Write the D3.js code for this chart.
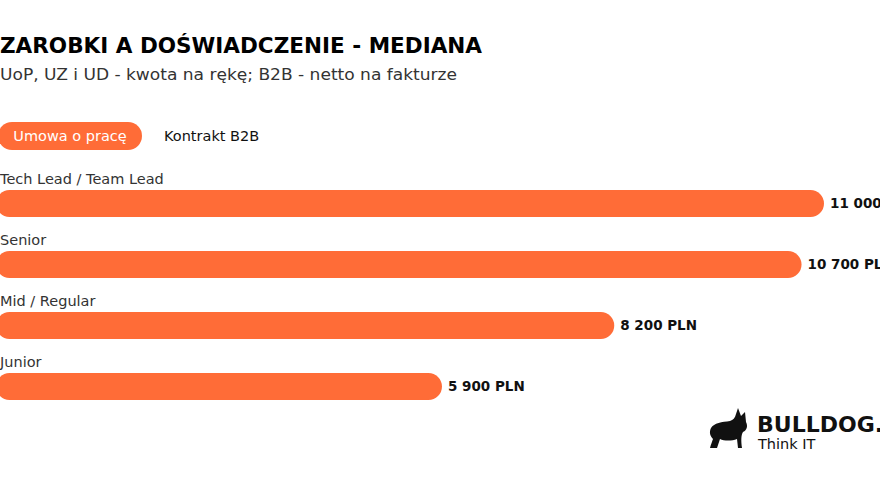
<!DOCTYPE html>
<html>
<head>
<meta charset="utf-8">
<script src="https://cdn.jsdelivr.net/npm/d3@7"></script>
<style>
  body { margin: 0; background: #fff; }
  svg { display: block; font-family: "DejaVu Sans", sans-serif; }
</style>
</head>
<body>
<script>
const levels = ["Tech Lead / Team Lead", "Senior", "Mid / Regular", "Junior"];
const medians = [11000, 10700, 8200, 5900];
const legendItems = ["Umowa o pracę", "Kontrakt B2B"];

const width = 880, height = 480;
const orange = "#ff6c37";

const svg = d3.select("body").append("svg")
    .attr("width", width)
    .attr("height", height);

// title + subtitle
svg.append("text")
    .attr("x", 0).attr("y", 53)
    .attr("textLength", 482).attr("lengthAdjust", "spacingAndGlyphs")
    .style("font-size", "21px").style("font-weight", 700)
    .attr("fill", "#000")
    .text("ZAROBKI A DOŚWIADCZENIE - MEDIANA");

svg.append("text")
    .attr("x", 0).attr("y", 80)
    .attr("textLength", 457).attr("lengthAdjust", "spacingAndGlyphs")
    .style("font-size", "16px")
    .attr("fill", "#333")
    .text("UoP, UZ i UD - kwota na rękę; B2B - netto na fakturze");

// legend / toggle
const leg = svg.append("g");
leg.append("rect")
    .attr("x", -2).attr("y", 122)
    .attr("width", 144).attr("height", 28)
    .attr("rx", 14)
    .attr("fill", orange);
leg.append("text")
    .attr("x", 70).attr("y", 141)
    .attr("text-anchor", "middle")
    .style("font-size", "14.5px")
    .attr("fill", "#fff")
    .text(legendItems[0]);
leg.append("text")
    .attr("x", 164).attr("y", 141)
    .style("font-size", "14.5px")
    .attr("fill", "#111")
    .text(legendItems[1]);

// bars
const x = d3.scaleLinear().domain([0, 11000]).range([0, 824]);
const y = d3.scaleBand().domain(levels).range([190, 400]).paddingInner(0.557).paddingOuter(0);

const fmt = v => d3.format(",")(v).replace(/,/g, " ") + " PLN";

const row = svg.selectAll("g.row")
    .data(levels.map((l, i) => ({level: l, value: medians[i]})))
    .enter().append("g")
    .attr("class", "row");

row.append("text")
    .attr("x", 0)
    .attr("y", d => y(d.level) - 6)
    .style("font-size", "14.5px")
    .attr("fill", "#333")
    .text(d => d.level);

row.append("rect")
    .attr("x", -4)
    .attr("y", d => y(d.level))
    .attr("width", d => x(d.value) + 4)
    .attr("height", y.bandwidth())
    .attr("rx", y.bandwidth() / 2)
    .attr("fill", orange);

row.append("text")
    .attr("x", d => x(d.value) + 6)
    .attr("y", d => y(d.level) + y.bandwidth() / 2)
    .attr("dy", "0.35em")
    .style("font-size", "13.5px")
    .style("font-weight", 700)
    .attr("fill", "#111")
    .text(d => fmt(d.value));

// logo
const logo = svg.append("g").attr("transform", "translate(708,408)");
logo.append("path")
    .attr("fill", "#111")
    .attr("d", "M30,0 L33,8 L37,4 L38,14 C40,18 39,22 35,24 C33,27 33,33 34,40 L30,40 L29,31 C24,33 16,33 12,31 L9,40 L2,40 C3,36 4,34 5,31 C2,28 1,24 3,20 C6,15 14,14 22,13 C25,12 27,10 28,6 Z");
logo.append("text")
    .attr("x", 49).attr("y", 24)
    .style("font-size", "22px").style("font-weight", 700)
    .attr("fill", "#111")
    .text("BULLDOG.");
logo.append("text")
    .attr("x", 50).attr("y", 41)
    .style("font-size", "14.5px")
    .attr("fill", "#111")
    .text("Think IT");
</script>
</body>
</html>
